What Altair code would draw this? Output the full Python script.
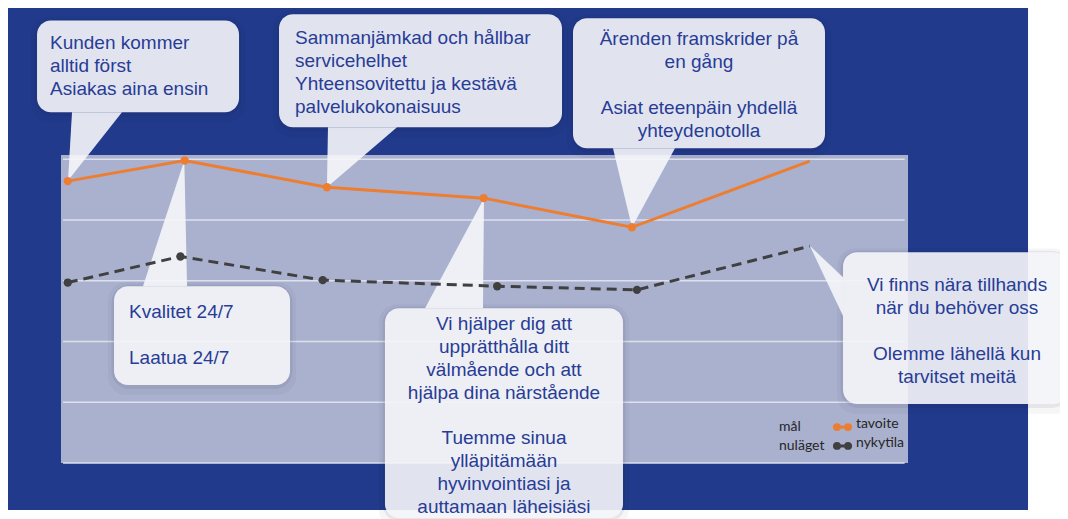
import altair as alt
import pandas as pd

# ---------------- data ----------------
series_names = ["tavoite", "nykytila"]
legend_sv = ["mål", "nuläget"]
pos_tavoite = [0.8, 14.6, 31.4, 49.9, 67.4, 88.4]
val_tavoite = [4.64, 4.98, 4.54, 4.36, 3.88, 4.97]
pos_nykytila = [0.8, 14.1, 30.9, 51.5, 68.0, 88.4]
val_nykytila = [2.97, 3.40, 3.01, 2.91, 2.85, 3.57]
marker_shown = [True, True, True, True, True, False]
grid_values = [0, 1, 2, 3, 4, 5]

bubble_texts = [
    ["Kunden kommer", "alltid först", "Asiakas aina ensin"],
    ["Sammanjämkad och hållbar", "servicehelhet", "Yhteensovitettu ja kestävä", "palvelukokonaisuus"],
    ["Ärenden framskrider på", "en gång", "", "Asiat eteenpäin yhdellä", "yhteydenotolla"],
    ["Kvalitet 24/7", "", "Laatua 24/7"],
    ["Vi hjälper dig att", "upprätthålla ditt", "välmående och att", "hjälpa dina närstående", "",
     "Tuemme sinua", "ylläpitämään", "hyvinvointiasi ja", "auttamaan läheisiäsi"],
    ["Vi finns nära tillhands", "när du behöver oss", "", "Olemme lähellä kun", "tarvitset meitä"],
]

# ---------------- annotation layout (in data units) ----------------
# box: x0, x1, y0, y1 ; text anchor x, first line y, align
bubble_boxes = [
    (-2.83, 21.02, 5.773, 7.286),
    (25.74, 59.15, 5.526, 7.385),
    (60.45, 90.20, 5.181, 7.319),
    (6.26, 27.04, 1.283, 2.911),
    (38.25, 66.35, -0.905, 2.549),
    (92.33, 118.77, 0.970, 3.470),
]
bubble_anchor = [
    (-1.30, 6.908, "left"),
    (27.63, 6.995, "left"),
    (75.32, 6.974, "center"),
    (8.03, 2.484, "left"),
    (52.30, 2.294, "center"),
    (105.79, 2.928, "center"),
]
line_step = 0.378
# tails pointing up/down: apex (x, y), base y, base x range
tails_vertical = [
    (0.83, 4.65, 5.773, 1.30, 7.20),
    (31.40, 4.54, 5.526, 31.52, 39.67),
    (67.41, 3.88, 5.181, 65.17, 72.49),
    (14.56, 4.98, 2.911, 9.68, 14.88),
    (49.94, 4.36, 2.549, 42.98, 49.82),
]
# tail pointing sideways: apex (x, y), base x, base y range
tails_side = [(88.43, 3.57, 92.33, 2.418, 3.059)]

frame_box = (-6.38, 114.17, -0.773, 7.53)
plot_box = (0, 100, 0, 5.07)
grid_span = (0.24, 99.6)
shadow_grow = [(0.3, 0.04, 0.07), (0.7, 0.10, 0.04)]  # dx, dy, opacity

# ---------------- styling ----------------
DARK_BLUE = "#213a8c"
LAVENDER = "#aab1cf"
GRID = "#dde1ee"
ORANGE = "#ed7d31"
GRAY = "#404040"
TEXT_BLUE = "#283c96"
BUBBLE = "#f5f6f9"
BUBBLE_OP = 0.91

X = alt.Scale(domain=[0, 100], nice=False, zero=False)
Y = alt.Scale(domain=[0, 5.07], nice=False, zero=False)


def xq(f, **kw):
    return alt.X(f, type="quantitative", scale=X, axis=None, **kw)


def yq(f, **kw):
    return alt.Y(f, type="quantitative", scale=Y, axis=None, **kw)


# ---------------- tables ----------------
frame_df = pd.DataFrame([dict(x0=frame_box[0], x1=frame_box[1], y0=frame_box[2], y1=frame_box[3])])
plot_df = pd.DataFrame([dict(x0=plot_box[0], x1=plot_box[1], y0=plot_box[2], y1=plot_box[3])])
grid_df = pd.DataFrame({"v": grid_values, "x0": grid_span[0], "x1": grid_span[1]})

box_df = pd.DataFrame([dict(x0=b[0], x1=b[1], y0=b[2], y1=b[3]) for b in bubble_boxes])
shadow_df = pd.DataFrame([dict(x0=b[0] - gx, x1=b[1] + gx, y0=b[2] - gy * 1.6, y1=b[3] + gy * 0.6, op=op)
                          for (gx, gy, op) in shadow_grow for b in bubble_boxes])

tv_rows = []
for i, (ax, ay, by, bx0, bx1) in enumerate(tails_vertical):
    tv_rows.append(dict(id=i, y=ay, xa=ax, xb=ax))
    tv_rows.append(dict(id=i, y=by, xa=bx0, xb=bx1))
tv_df = pd.DataFrame(tv_rows)

ts_rows = []
for i, (ax, ay, bx, by0, by1) in enumerate(tails_side):
    ts_rows.append(dict(id=i, x=ax, ya=ay, yb=ay))
    ts_rows.append(dict(id=i, x=bx, ya=by0, yb=by1))
ts_df = pd.DataFrame(ts_rows)

txt_rows = []
for lines, (tx, ty, al) in zip(bubble_texts, bubble_anchor):
    for k, s in enumerate(lines):
        if s:
            txt_rows.append(dict(t=s, x=tx, y=ty - k * line_step, align=al))
txt_df = pd.DataFrame(txt_rows)

series_rows = []
for name, xs, ys in [(series_names[0], pos_tavoite, val_tavoite),
                     (series_names[1], pos_nykytila, val_nykytila)]:
    for k, (xv, yv) in enumerate(zip(xs, ys)):
        series_rows.append(dict(series=name, x=xv, y=yv, marker=marker_shown[k], k=k))
series_df = pd.DataFrame(series_rows)

color_scale = alt.Scale(domain=series_names, range=[ORANGE, GRAY])

# legend layout
leg_y = [0.592, 0.280]
leg_text_left = pd.DataFrame({"t": legend_sv, "x": [84.77, 84.77], "y": leg_y})
leg_text_right = pd.DataFrame({"t": series_names, "x": [93.86, 93.86], "y": [0.641, 0.329]})
leg_line = pd.DataFrame([dict(series=s, x=x, y=y) for s, y in zip(series_names, leg_y)
                         for x in (91.15, 93.39)])
leg_dots = pd.DataFrame([dict(series=s, x=x, y=y) for s, y in zip(series_names, leg_y)
                         for x in (91.62, 92.92)])

# ---------------- layers ----------------
frame = alt.Chart(frame_df).mark_rect(color=DARK_BLUE).encode(
    x=xq("x0"), x2="x1", y=yq("y0"), y2="y1")
plot_bg = alt.Chart(plot_df).mark_rect(color=LAVENDER).encode(
    x=xq("x0"), x2="x1", y=yq("y0"), y2="y1")
grid = alt.Chart(grid_df).mark_rule(color=GRID, strokeWidth=1.5).encode(
    y=yq("v"), x=xq("x0"), x2="x1")

shadows = alt.Chart(shadow_df).mark_rect(color="#1a1a2e", cornerRadius=18).encode(
    x=xq("x0"), x2="x1", y=yq("y0"), y2="y1",
    opacity=alt.Opacity("op:Q", scale=None, legend=None))
boxes = alt.Chart(box_df).mark_rect(color=BUBBLE, opacity=BUBBLE_OP, cornerRadius=14).encode(
    x=xq("x0"), x2="x1", y=yq("y0"), y2="y1")
tails_v = alt.Chart(tv_df).mark_area(color=BUBBLE, opacity=BUBBLE_OP, orient="horizontal").encode(
    y=yq("y"), x=xq("xa", stack=None), x2="xb", detail="id:N")
tails_s = alt.Chart(ts_df).mark_area(color=BUBBLE, opacity=BUBBLE_OP, orient="vertical").encode(
    x=xq("x"), y=yq("ya", stack=None), y2="yb", detail="id:N")

line_t = alt.Chart(series_df).transform_filter(
    alt.datum.series == series_names[0]).mark_line(color=ORANGE, strokeWidth=3).encode(
    x=xq("x"), y=yq("y"), order="k:Q")
line_n = alt.Chart(series_df).transform_filter(
    alt.datum.series == series_names[1]).mark_line(color=GRAY, strokeWidth=3, strokeDash=[10, 6]).encode(
    x=xq("x"), y=yq("y"), order="k:Q")
points = alt.Chart(series_df).transform_filter(alt.datum.marker).mark_circle(size=70, opacity=1).encode(
    x=xq("x"), y=yq("y"), color=alt.Color("series:N", scale=color_scale, legend=None))

text_style = dict(font="Liberation Sans", fontSize=19, color=TEXT_BLUE, baseline="middle")
txt_left = alt.Chart(txt_df).transform_filter(alt.datum.align == "left").mark_text(
    align="left", **text_style).encode(x=xq("x"), y=yq("y"), text="t:N")
txt_center = alt.Chart(txt_df).transform_filter(alt.datum.align == "center").mark_text(
    align="center", **text_style).encode(x=xq("x"), y=yq("y"), text="t:N")

leg_style = dict(font="Lato", fontSize=14, color="#262626", baseline="middle", align="left")
leg_t1 = alt.Chart(leg_text_left).mark_text(**leg_style).encode(x=xq("x"), y=yq("y"), text="t:N")
leg_t2 = alt.Chart(leg_text_right).mark_text(**leg_style).encode(x=xq("x"), y=yq("y"), text="t:N")
leg_l = alt.Chart(leg_line).mark_line(strokeWidth=3).encode(
    x=xq("x"), y=yq("y"), detail="series:N",
    color=alt.Color("series:N", scale=color_scale, legend=None))
leg_d = alt.Chart(leg_dots).mark_circle(size=60, opacity=1).encode(
    x=xq("x"), y=yq("y"), color=alt.Color("series:N", scale=color_scale, legend=None))

chart = alt.layer(
    frame, plot_bg, grid, shadows, boxes, tails_v, tails_s,
    line_t, line_n, points, txt_left, txt_center,
    leg_l, leg_d, leg_t1, leg_t2,
).properties(
    width=847, height=308,
    padding={"left": 53, "top": 147, "right": 152, "bottom": 56},
    autosize=alt.AutoSizeParams(type="none"),
    background="white",
).configure_view(stroke=None)

chart.save("out.html", embed_options={"renderer": "svg", "actions": False})
